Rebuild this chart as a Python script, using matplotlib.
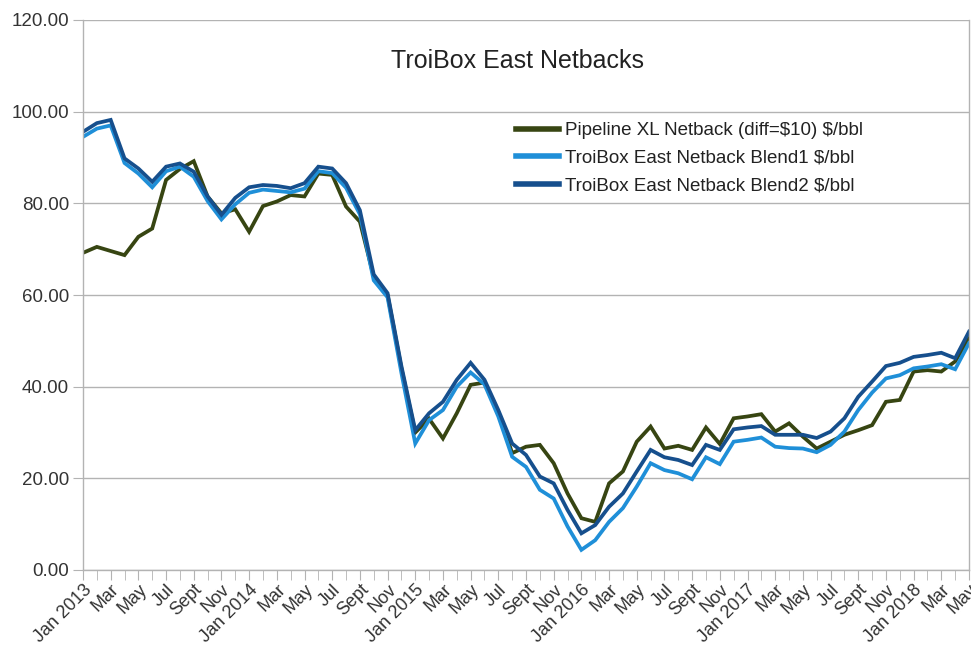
import matplotlib
matplotlib.use("Agg")
import matplotlib.pyplot as plt
from matplotlib.ticker import FixedLocator, FormatStrFormatter
import numpy as np

plt.rcParams['font.family'] = ['Liberation Sans', 'DejaVu Sans']
plt.rcParams['text.parse_math'] = False

# Monthly axis: Jan 2013 .. May 2018
month_names = ['Jan', 'Feb', 'Mar', 'Apr', 'May', 'Jun',
               'Jul', 'Aug', 'Sept', 'Oct', 'Nov', 'Dec']
years = [2013, 2014, 2015, 2016, 2017, 2018]
n_months = 65

pipeline_xl = [
    69.2, 70.5, 69.6, 68.7, 72.7, 74.5, 85.1, 87.5, 89.2, 81.5, 77.8, 78.7,
    73.8, 79.4, 80.4, 81.8, 81.5, 86.5, 86.2, 79.3, 76.0, 64.0, 60.0, 44.0,
    30.0, 33.0, 28.7, 34.2, 40.4, 40.9, 34.5, 25.5, 26.9, 27.3, 23.3, 16.7,
    11.3, 10.5, 18.9, 21.5, 28.0, 31.3, 26.5, 27.1, 26.2, 31.1, 27.5, 33.1,
    33.5, 34.0, 30.2, 32.0, 29.1, 26.5, 28.0, 29.5, 30.5, 31.6, 36.7, 37.1,
    43.3, 43.6, 43.3, 45.5, 50.5,
]
blend1 = [
    94.5, 96.3, 97.0, 88.8, 86.5, 83.5, 87.0, 88.0, 85.8, 80.5, 76.5, 79.8,
    82.3, 83.0, 82.7, 82.4, 83.2, 87.0, 86.6, 83.4, 77.6, 63.2, 59.5, 43.0,
    27.6, 32.7, 34.9, 40.0, 43.1, 40.5, 33.5, 24.7, 22.5, 17.5, 15.6, 9.5,
    4.4, 6.5, 10.5, 13.5, 18.2, 23.3, 21.8, 21.1, 19.8, 24.6, 23.1, 28.0,
    28.4, 28.9, 26.9, 26.6, 26.5, 25.7, 27.3, 30.2, 34.9, 38.7, 41.8, 42.5,
    44.0, 44.4, 44.9, 43.8, 49.5,
]
blend2 = [
    95.6, 97.5, 98.2, 89.8, 87.6, 84.7, 88.0, 88.7, 86.9, 81.5, 77.5, 81.2,
    83.5, 84.0, 83.8, 83.3, 84.4, 88.0, 87.6, 84.4, 78.5, 64.5, 60.4, 44.5,
    30.5, 34.2, 36.7, 41.5, 45.2, 41.5, 34.9, 27.6, 25.1, 20.4, 18.9, 13.1,
    8.0, 9.8, 13.8, 16.7, 21.5, 26.2, 24.6, 24.0, 22.9, 27.3, 26.2, 30.7,
    31.1, 31.4, 29.5, 29.5, 29.5, 28.8, 30.2, 33.1, 37.8, 41.1, 44.5, 45.2,
    46.5, 46.9, 47.4, 46.2, 52.0,
]

series_labels = [
    'Pipeline XL Netback (diff=$10) $/bbl',
    'TroiBox East Netback Blend1 $/bbl',
    'TroiBox East Netback Blend2 $/bbl',
]
series_colors = ['#374512', '#1f8fd8', '#164f8d']

# Tick labels every second month, with the year on each January
tick_labels = []
for i in range(0, n_months, 2):
    m = i % 12
    y = years[i // 12]
    tick_labels.append(f'{month_names[m]} {y}' if m == 0 else month_names[m])

x = np.arange(n_months)

fig = plt.figure(figsize=(9.71, 6.47), dpi=100)
ax = fig.add_axes([83 / 971, 1 - 570 / 647, 886 / 971, 550 / 647])

for vals, lab, col in zip([pipeline_xl, blend1, blend2], series_labels, series_colors):
    ax.plot(x, vals, color=col, lw=2.7, label=lab, solid_joinstyle='miter')

ax.set_xlim(0, n_months - 1)
ax.set_ylim(0, 120)
ax.yaxis.set_major_locator(FixedLocator(np.arange(0, 121, 20)))
ax.yaxis.set_major_formatter(FormatStrFormatter('%.2f'))
ax.grid(axis='y', color='#b3b3b3', lw=1.0)
ax.set_axisbelow(True)

ax.set_xticks(x, minor=True)
ax.set_xticks(np.arange(0, n_months, 2))
ax.set_xticklabels(tick_labels, rotation=45, ha='right', va='top',
                   rotation_mode='anchor', fontsize=13, color='#333333')
ax.tick_params(axis='x', which='both', length=7, color='#b3b3b3', pad=1)
ax.tick_params(axis='y', length=7, color='#b3b3b3', labelsize=13.5,
               labelcolor='#333333', pad=3)

ax.spines['top'].set_visible(False)
for side in ['left', 'right', 'bottom']:
    ax.spines[side].set_color('#b3b3b3')
    ax.spines[side].set_linewidth(1.0)

fig.text(517 / 971, 1 - 61 / 647, 'TroiBox East Netbacks', ha='center',
         va='center', fontsize=18, color='#222222')

leg = ax.legend(loc='upper left', bbox_to_anchor=(516 / 971, 1 - 122 / 647),
                bbox_transform=fig.transFigure, frameon=False, fontsize=13.5,
                handlelength=2.3, handletextpad=0.3, labelspacing=0.56,
                borderaxespad=0, borderpad=0)
for t in leg.get_texts():
    t.set_color('#222222')
for h in leg.get_lines():
    h.set_linewidth(4)

fig.savefig('out.png', dpi=100, facecolor='white')
